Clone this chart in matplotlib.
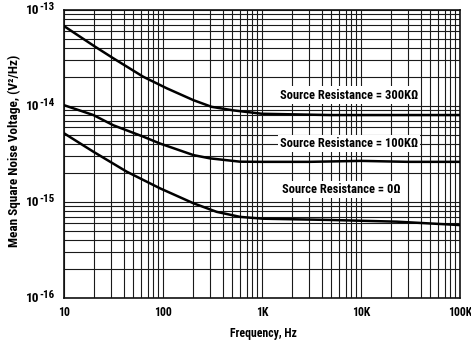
import matplotlib
matplotlib.use("Agg")
import matplotlib.pyplot as plt
from matplotlib.ticker import LogLocator, FixedLocator, FixedFormatter, NullFormatter
import matplotlib.transforms as mtransforms
import numpy as np

FONT = ['Roboto Condensed', 'DejaVu Sans']
plt.rcParams['font.family'] = FONT
plt.rcParams['font.weight'] = 'bold'

freq_300k = [10, 20.6, 31.5, 63, 109, 203, 310, 515, 1000, 4900, 10000, 30000, 100000]
noise_300k = [6.8e-14, 4.15e-14, 3.14e-14, 2.02e-14, 1.53e-14, 1.15e-14, 9.8e-15, 9.0e-15, 8.3e-15, 8.05e-15, 8.05e-15, 8.05e-15, 8.05e-15]

freq_100k = [10, 19.8, 31.5, 63, 93, 203, 297, 600, 1000, 3000, 10000, 30000, 100000]
noise_100k = [1.02e-14, 8.05e-15, 6.3e-15, 4.8e-15, 4.07e-15, 3.08e-15, 2.85e-15, 2.63e-15, 2.62e-15, 2.62e-15, 2.68e-15, 2.62e-15, 2.62e-15]

freq_0 = [10, 19.8, 43, 93, 203, 348, 600, 1020, 4870, 23000, 100000]
noise_0 = [5.2e-15, 3.34e-15, 2.07e-15, 1.39e-15, 9.7e-16, 7.9e-16, 7.0e-16, 6.7e-16, 6.5e-16, 6.24e-16, 5.75e-16]

x_ticks = [10, 100, 1000, 10000, 100000]
x_labels = ['10', '100', '1K', '10K', '100K']
y_ticks = [1e-16, 1e-15, 1e-14, 1e-13]
y_exponents = ['-16', '-15', '-14', '-13']

labels = ['Source Resistance = 300K\u03a9', 'Source Resistance = 100K\u03a9', 'Source Resistance = 0\u03a9']
label_f = [7570, 7570, 6380]
label_v = [1.3e-14, 4.08e-15, 1.36e-15]

W, H = 471, 342
fig = plt.figure(figsize=(W / 100, H / 100), dpi=100)
ax = fig.add_axes([64 / W, 44 / H, 396 / W, 288 / H])
ax.set_xscale('log')
ax.set_yscale('log')
ax.set_xlim(10, 100000)
ax.set_ylim(1e-16, 1e-13)

ax.xaxis.set_major_locator(FixedLocator(x_ticks))
ax.xaxis.set_major_formatter(FixedFormatter(x_labels))
ax.yaxis.set_major_locator(FixedLocator(y_ticks))
ax.yaxis.set_major_formatter(NullFormatter())
ax.xaxis.set_minor_locator(LogLocator(base=10, subs=np.arange(2, 10), numticks=20))
ax.yaxis.set_minor_locator(LogLocator(base=10, subs=np.arange(2, 10), numticks=20))
ax.xaxis.set_minor_formatter(NullFormatter())
ax.yaxis.set_minor_formatter(NullFormatter())
ax.tick_params(which='both', length=0, labelsize=8.5, pad=6)
for lab in ax.get_xticklabels():
    lab.set_fontweight('bold')
# keep the last label inside the figure like the reference
ax.get_xticklabels()[-1].set_horizontalalignment('center')
ax.grid(which='both', color='#1a1a1a', linewidth=0.8)
for s in ax.spines.values():
    s.set_linewidth(1.2)
    s.set_color('#111111')

for f, n in [(freq_300k, noise_300k), (freq_100k, noise_100k), (freq_0, noise_0)]:
    ax.plot(f, n, color='black', linewidth=1.8, zorder=3, solid_joinstyle='round')

# y tick labels: "10" with raised exponent
trans = ax.get_yaxis_transform()
for v, e in zip(y_ticks, y_exponents):
    t10 = mtransforms.offset_copy(trans, fig=fig, x=-25, y=-1, units='dots')
    ax.text(0, v, '10', transform=t10, ha='right', va='center', fontsize=9.5,
            fontweight='bold', clip_on=False)
    te = mtransforms.offset_copy(trans, fig=fig, x=-25, y=0, units='dots')
    ax.text(0, v, e, transform=te, ha='left', va='baseline', fontsize=8,
            fontweight='bold', clip_on=False)

bbox = dict(facecolor='white', edgecolor='none', pad=1.5)
for t, f, v in zip(labels, label_f, label_v):
    ax.text(f, v, t, ha='center', va='center', fontsize=9, fontweight='bold',
            bbox=bbox, zorder=4)

fig.text(263 / W, 1 - 333 / H, 'Frequency, Hz', ha='center', va='center',
         fontsize=8.5, fontweight='bold')
fig.text(14 / W, 1 - 151 / H, 'Mean Square Noise Voltage, (V\u00b2/Hz)', rotation=90,
         ha='center', va='center', fontsize=9.5, fontweight='bold')

fig.savefig('out.png', dpi=100, facecolor='white')
